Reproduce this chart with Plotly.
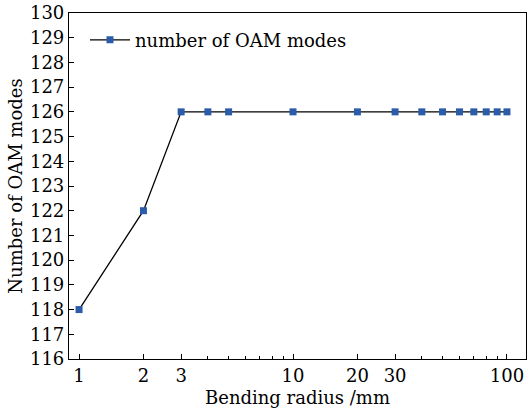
import plotly.graph_objects as go

radius_mm = [1, 2, 3, 4, 5, 10, 20, 30, 40, 50, 60, 70, 80, 90, 100]
oam_modes = [118, 122, 126, 126, 126, 126, 126, 126, 126, 126, 126, 126, 126, 126, 126]
x_ticks = [1, 2, 3, 10, 20, 30, 100]
x_minor = [4, 5, 6, 7, 8, 9, 40, 50, 60, 70, 80, 90]
y_ticks = list(range(116, 131))

FONT = "DejaVu Serif"

fig = go.Figure()
fig.add_trace(go.Scatter(
    x=radius_mm, y=oam_modes, mode="lines+markers",
    name="number of OAM modes",
    line=dict(color="black", width=1.3),
    marker=dict(symbol="square", size=7, color="#2a5caa"),
))

fig.update_layout(
    width=527, height=414,
    margin=dict(l=69, r=1, t=13, b=55),
    paper_bgcolor="white", plot_bgcolor="white",
    font=dict(family=FONT, size=18, color="black"),
    showlegend=True,
    legend=dict(x=0.035, y=0.975, xanchor="left", yanchor="top",
                bgcolor="rgba(0,0,0,0)", font=dict(family=FONT, size=18),
                itemwidth=40),
)
fig.update_xaxes(
    type="log", range=[-0.047, 2.089],
    tickmode="array", tickvals=x_ticks, ticktext=[str(v) for v in x_ticks],
    ticks="inside", ticklen=5, tickcolor="black",
    minor=dict(tickmode="array", tickvals=x_minor, ticks="inside", ticklen=3, tickcolor="black"),
    showline=True, linecolor="black", linewidth=1.2, mirror=True,
    showgrid=False, zeroline=False,
    title=dict(text="Bending radius /mm", standoff=6, font=dict(size=18)),
    tickfont=dict(size=18),
)
fig.update_yaxes(
    range=[116, 130],
    tickmode="array", tickvals=y_ticks,
    ticks="inside", ticklen=5, tickcolor="black",
    showline=True, linecolor="black", linewidth=1.2, mirror=True,
    showgrid=False, zeroline=False,
    title=dict(text="Number of OAM modes", standoff=2, font=dict(size=18)),
    tickfont=dict(size=18),
)

fig.write_html("out.html")
